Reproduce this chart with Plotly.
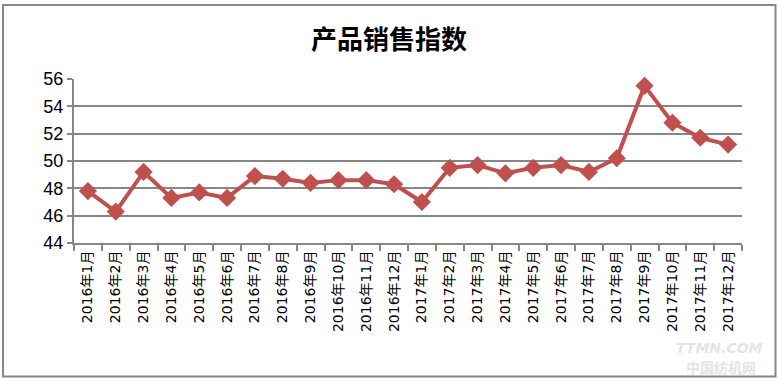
import plotly.graph_objects as go

categories = [f"2016年{m}月" for m in range(1, 13)] + [f"2017年{m}月" for m in range(1, 13)]
values = [47.8, 46.3, 49.2, 47.3, 47.7, 47.3, 48.9, 48.7, 48.4, 48.6, 48.6, 48.3,
          47.0, 49.5, 49.7, 49.1, 49.5, 49.7, 49.2, 50.2, 55.5, 52.8, 51.7, 51.2]
y_ticks = [44, 46, 48, 50, 52, 54, 56]
title_text = "产品销售指数"

W, H = 779, 382
L, R, T, B = 74, 742, 79, 243

def px_x(x):
    return (x - L) / (R - L)

def px_y(y):
    return (B - y) / (B - T)

fig = go.Figure()
fig.add_trace(go.Scatter(
    x=categories, y=values, mode="lines+markers",
    line=dict(color="#C0504D", width=4),
    marker=dict(symbol="diamond", size=14, color="#C0504D"),
    cliponaxis=False, showlegend=False,
))

fig.update_layout(
    width=W, height=H, autosize=False,
    margin=dict(l=L, r=W - R, t=T, b=H - B, pad=0),
    paper_bgcolor="white", plot_bgcolor="white",
    title=dict(text=title_text, x=389 / W, xref="container", xanchor="center",
               y=1 - 40 / H, yref="container", yanchor="middle",
               font=dict(family="Noto Sans CJK SC", size=26, color="black", weight="bold")),
    xaxis=dict(
        type="category", showgrid=False, showline=True, linecolor="#868686", linewidth=2,
        ticks="outside", tickson="boundaries", ticklen=6, tickcolor="#868686", tickwidth=2,
        tickangle=-90, tickfont=dict(family="DejaVu Sans, Noto Sans CJK SC", size=14, color="black"),
        range=[-0.5, 23.5], fixedrange=True,
    ),
    yaxis=dict(
        range=[44, 56], tickvals=y_ticks, ticktext=[str(v) for v in y_ticks],
        showgrid=True, gridcolor="#868686", gridwidth=2,
        showline=True, linecolor="#868686", linewidth=2,
        ticks="outside", ticklen=5, tickcolor="#868686", tickwidth=2,
        tickfont=dict(family="Liberation Sans Narrow, Arial Narrow, Liberation Sans", size=18, color="black"),
        zeroline=False, fixedrange=True,
    ),
    shapes=[dict(type="rect", xref="paper", yref="paper",
                 x0=px_x(3), x1=px_x(775.5), y0=px_y(376.5), y1=px_y(5),
                 line=dict(color="#868686", width=2), fillcolor="rgba(0,0,0,0)", layer="below")],
    annotations=[
        dict(text="<i><b>TTMN.COM</b></i>", xref="paper", yref="paper",
             x=px_x(765), y=px_y(348), xanchor="right", yanchor="middle", showarrow=False,
             font=dict(family="DejaVu Sans", size=14, color="#E4E4E4")),
        dict(text="<b>中国纺机网</b>", xref="paper", yref="paper",
             x=px_x(758), y=px_y(367), xanchor="right", yanchor="middle", showarrow=False,
             font=dict(family="Noto Sans CJK SC", size=14, color="#E4E4E4")),
    ],
)

fig.write_html("out.html", config={"displayModeBar": False},
               post_script="document.body.style.margin='0';document.body.style.padding='0';")
